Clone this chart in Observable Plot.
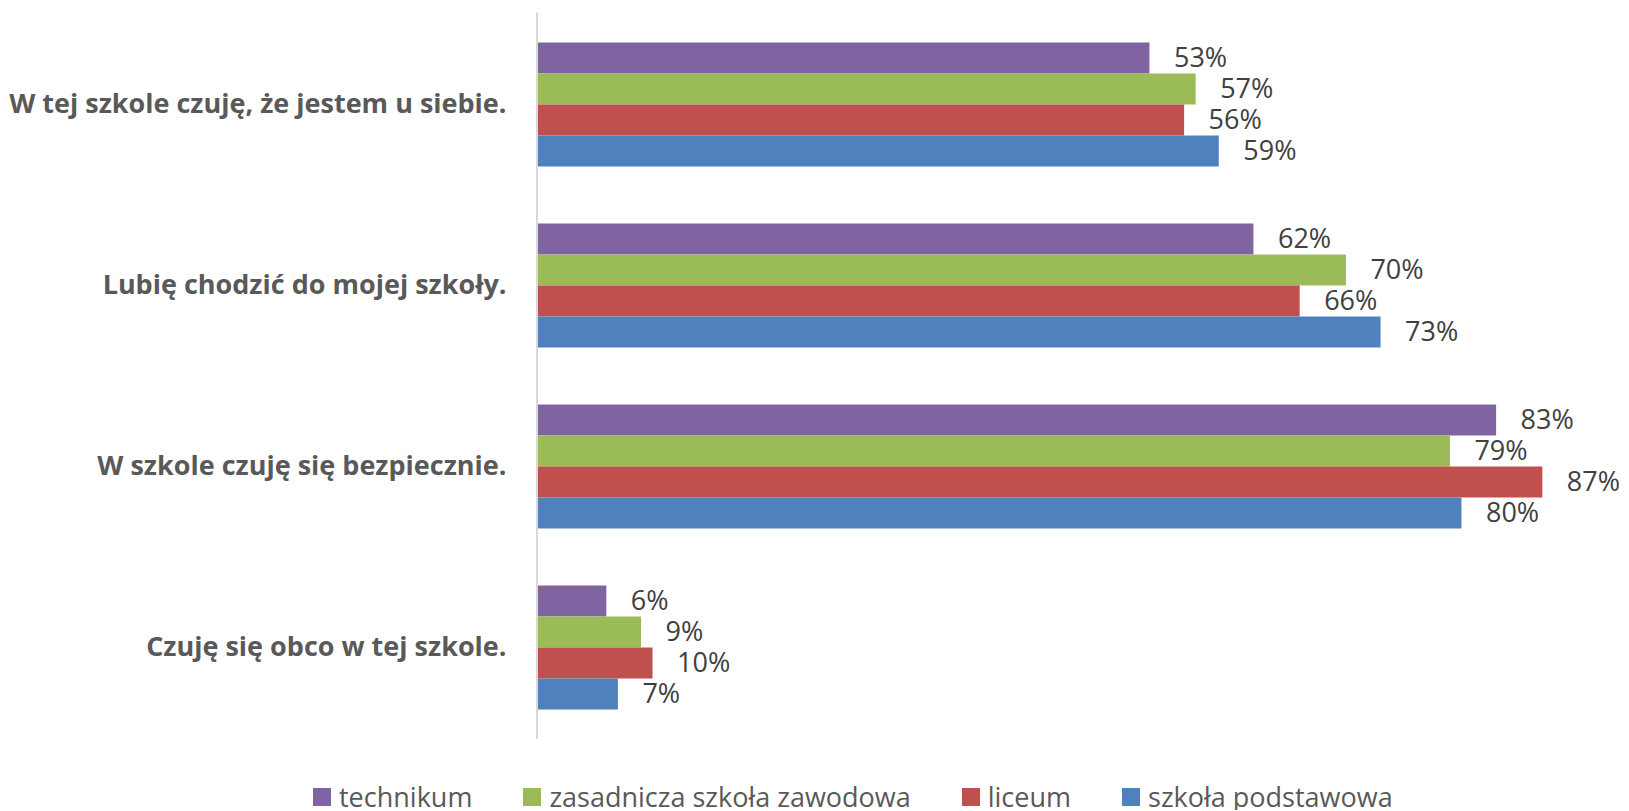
<!DOCTYPE html>
<html><head><meta charset="utf-8">
<script src="https://cdn.jsdelivr.net/npm/d3@7"></script>
<script src="https://cdn.jsdelivr.net/npm/@observablehq/plot@0.6"></script>
<style>
body{margin:0;background:#fff;font-family:"Open Sans",sans-serif;}
#legend{display:flex;gap:51px;padding-left:313px;margin-top:42px;align-items:center;height:26px;}
.item{display:flex;align-items:center;gap:8px;font-size:27px;color:#595959;line-height:26px;}
.sw{width:18px;height:18px;flex:none;}
</style></head><body><div id="chart"></div><div id="legend"></div>
<script>
const categories = ["W tej szkole czuję, że jestem u siebie.", "Lubię chodzić do mojej szkoły.", "W szkole czuję się bezpiecznie.", "Czuję się obco w tej szkole."];
const seriesNames = ["technikum", "zasadnicza szkoła zawodowa", "liceum", "szkoła podstawowa"];
const technikum = [53, 62, 83, 6];
const zasadnicza = [57, 70, 79, 9];
const liceum = [56, 66, 87, 10];
const podstawowa = [59, 73, 80, 7];
const colors = ["#8064A2", "#9BBB59", "#C0504D", "#4F81BD"];
const seriesValues = [technikum, zasadnicza, liceum, podstawowa];

const data = [];
categories.forEach((c, i) => seriesNames.forEach((s, j) => data.push({category: c, series: s, value: seriesValues[j][i]})));

const plot = Plot.plot({
  width: 1629, height: 742,
  marginLeft: 537, marginRight: 0, marginTop: 11.5, marginBottom: 2.5,
  style: {fontFamily: "Open Sans", background: "white"},
  x: {domain: [0, 94.5], axis: null},
  y: {domain: seriesNames, axis: null, padding: 0},
  fy: {domain: categories, paddingInner: 0.313, paddingOuter: 0.157},
  color: {domain: seriesNames, range: colors},
  marks: [
    Plot.barX(data, {x: "value", y: "series", fy: "category", fill: "series"}),
    Plot.text(data, {x: "value", y: "series", fy: "category", text: d => d.value + "%", textAnchor: "start", dx: 24, dy: 0, fontSize: 27, fill: "#404040"}),
    Plot.axisFy({anchor: "left", tickSize: 0, tickPadding: 31, fontSize: 27, fontWeight: "bold", fill: "#595959", label: null})
  ]
});
document.getElementById("chart").appendChild(plot);

// vertical category axis line at x = 0, spanning the full plot height
const x0 = plot.scale("x").apply(0);
d3.select(plot).append("line")
  .attr("x1", x0).attr("x2", x0)
  .attr("y1", 12.5).attr("y2", 739)
  .attr("stroke", "#d9d9d9").attr("stroke-width", 2);

const legend = d3.select("#legend");
seriesNames.forEach((s, j) => {
  const it = legend.append("div").attr("class", "item");
  it.append("div").attr("class", "sw").style("background", colors[j]);
  it.append("span").text(s);
});
</script></body></html>
